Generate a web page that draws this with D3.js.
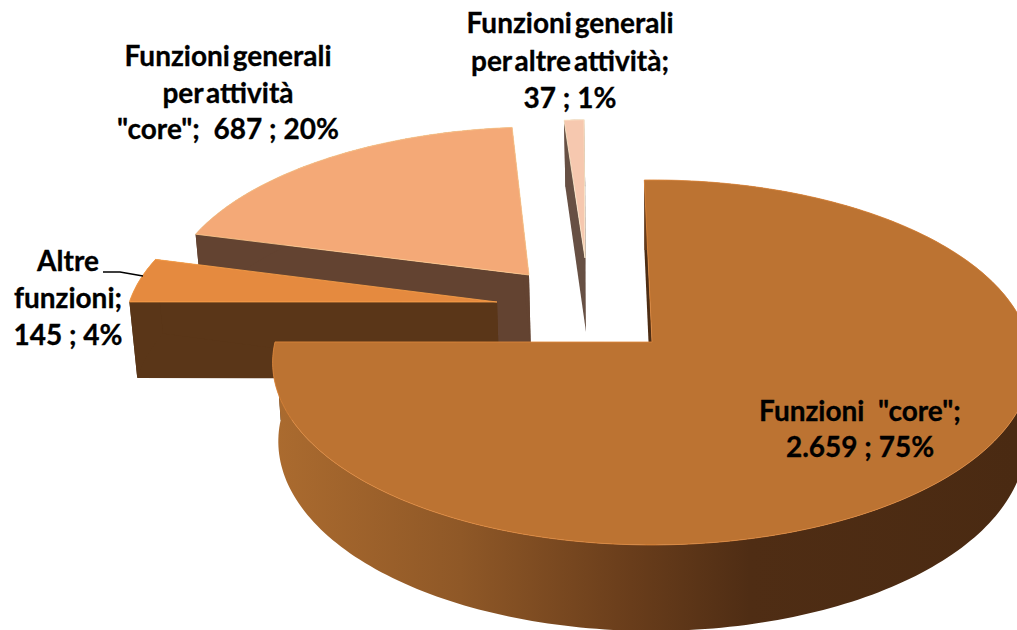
<!DOCTYPE html>
<html>
<head>
<meta charset="utf-8">
<script src="https://cdn.jsdelivr.net/npm/d3@7"></script>
<style>
  html, body { margin: 0; padding: 0; background: #fff; }
  svg { display: block; }
  text { font-family: Lato, "Open Sans", sans-serif; font-weight: 700; fill: #000; stroke: #000; stroke-width: 0.3px; }
</style>
</head>
<body>
<svg id="graph"></svg>
<script>
var categories = ["Funzioni \"core\"", "Altre funzioni", "Funzioni generali per attività \"core\"", "Funzioni generali per altre attività"];
var values = [2659, 145, 687, 37];
var labelLines = [
  ["Funzioni  \"core\";", "2.659 ; 75%"],
  ["Altre", "funzioni;", "145 ; 4%"],
  ["Funzioni generali", "per attività", "\"core\";  687 ; 20%"],
  ["Funzioni generali", "per altre attività;", "37 ; 1%"]
];
var topColors = ["#BC7332", "#E58A3F", "#F4A977", "#F6C8AF"];
var wallColors = ["#4D2D14", "#5A3618", "#634331", "#675044"];

var w = 1017;
var h = 630;

// pie plane -> screen, front of the pie is drawn bigger
var cx = 652, cy = 342;
var radiusX = 377, radiusY = 180.2, persp = 0.112;

// where each slice's tip ended up after the explosion (pie plane units), and its radius
var tips = [[0, 0, 1], [-0.4216, -0.2276, 1], [-0.3405, -0.388, 0.99], [-0.1875, -0.492, 0.94]];

// label anchors: centre x, then baseline of first line and line step
var labelPos = [
  {x: 860, y: 421, step: 36},
  {x: 68, y: 271, step: 37},
  {x: 228, y: 66, step: 36.5},
  {x: 570, y: 33, step: 37.5}
];

function project(u, v, bottom) {
  var s = 1 / (1 - persp * v);
  var x = cx + u * radiusX * s;
  var y = cy + v * radiusY * s;
  if (bottom) {
    x = cx + (x - cx) * 0.985;
    y += 78 + 8 * v;
  }
  return [x, y];
}

var startRot = -1.3 * Math.PI / 180;
var slices = d3.pie().sort(null).startAngle(startRot).endAngle(startRot + 2 * Math.PI)(values);

var svg = d3.select("#graph").attr("width", w).attr("height", h);
var line = d3.line();

var grad = svg.append("defs").append("linearGradient")
  .attr("id", "rimGrad")
  .attr("gradientUnits", "userSpaceOnUse")
  .attr("x1", 275).attr("x2", 1017).attr("y1", 0).attr("y2", 0);
[[0, "#AB6B2F"], [0.25, "#8F5827"], [0.48, "#693D1B"], [0.64, "#4F2D14"], [1, "#4A2A12"]].forEach(function(s) {
  grad.append("stop").attr("offset", s[0]).attr("stop-color", s[1]);
});

function rimPoint(i, t, bottom) {
  var r = tips[i][2];
  return project(tips[i][0] + r * Math.sin(t), tips[i][1] - r * Math.cos(t), bottom);
}

function arcAngles(d) {
  var n = Math.max(2, Math.ceil((d.endAngle - d.startAngle) / 0.02));
  return d3.range(n + 1).map(function(k) {
    return d.startAngle + (d.endAngle - d.startAngle) * k / n;
  });
}

// back to front, so later slices cover earlier ones
var order = [2, 3, 1, 0];

order.forEach(function(i) {
  var d = slices[i];
  var tipT = project(tips[i][0], tips[i][1], false);
  var tipB = project(tips[i][0], tips[i][1], true);
  var angles = arcAngles(d);
  var g = svg.append("g").attr("class", "slice");

  // flat cut faces
  [d.startAngle, d.endAngle].forEach(function(t) {
    g.append("path")
      .attr("d", line([tipT, rimPoint(i, t, false), rimPoint(i, t, true), tipB]) + "Z")
      .attr("fill", wallColors[i]);
  });

  // outer wall
  var topEdge = angles.map(function(t) { return rimPoint(i, t, false); });
  var botEdge = angles.map(function(t) { return rimPoint(i, t, true); }).reverse();
  g.append("path")
    .attr("d", line(topEdge.concat(botEdge)) + "Z")
    .attr("fill", i == 0 ? "url(#rimGrad)" : wallColors[i]);

  // top surface
  g.append("path")
    .attr("d", line([tipT].concat(topEdge)) + "Z")
    .attr("fill", topColors[i])
    .attr("stroke", d3.color(topColors[i]).brighter(0.5))
    .attr("stroke-width", 0.8);
});

// leader for the small slice
svg.append("path")
  .attr("d", line([[103, 272], [120, 272], [143, 276]]))
  .attr("fill", "none")
  .attr("stroke", "#000")
  .attr("stroke-width", 1.6);

labelLines.forEach(function(lines, i) {
  lines.forEach(function(txt, k) {
    svg.append("text")
      .attr("x", labelPos[i].x)
      .attr("y", labelPos[i].y + k * labelPos[i].step)
      .attr("text-anchor", "middle")
      .style("font-size", "28px")
      // the original squeezes the word gaps on the long lines only
      .style("word-spacing", (i == 2 || i == 3) && k < lines.length - 1 ? "-4px" : "0")
      .style("white-space", "pre")
      .text(txt);
  });
});
</script>
</body>
</html>
